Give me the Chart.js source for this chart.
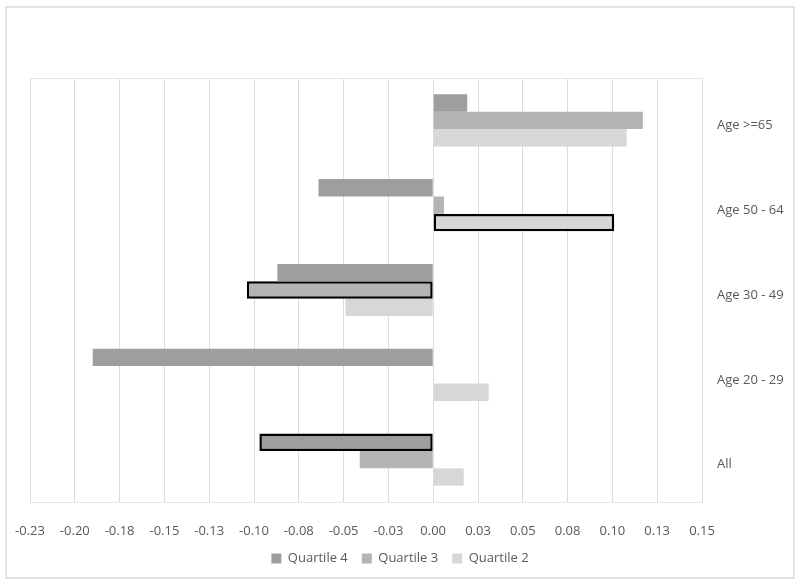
<!DOCTYPE html>
<html>
<head>
<meta charset="utf-8">
<script src="https://cdn.jsdelivr.net/npm/chart.js@4.4.1/dist/chart.umd.min.js"></script>
<style>
body{margin:0;background:#fff;}
#frame{position:absolute;left:5px;top:6px;width:786px;height:569px;border:2px solid #e3e3e3;}
#wrap{position:absolute;left:0;top:0;width:800px;height:585px;}
</style>
</head>
<body>
<div id="frame"></div>
<div id="wrap"><canvas id="ageChart"></canvas></div>
<script>

const categories = ["Age >=65", "Age 50 - 64", "Age 30 - 49", "Age 20 - 29", "All"];

const quartile4 = [0.019, -0.064, -0.087, -0.190, -0.097];
const quartile3 = [0.117, 0.006, -0.104, 0, -0.041];
const quartile2 = [0.108, 0.101, -0.049, 0.031, 0.017];

// bars drawn with a black outline in the original
const quartile4Outlined = [false, false, false, false, true];
const quartile3Outlined = [false, false, true, false, false];
const quartile2Outlined = [false, true, false, false, false];

const tickLabels = ["-0.23","-0.20","-0.18","-0.15","-0.13","-0.10","-0.08","-0.05","-0.03",
"0.00","0.03","0.05","0.08","0.10","0.13","0.15"];

const textColor = "#595959";
const fontFamily = "'Open Sans', 'Liberation Sans', sans-serif";

function outline(flags){
return {
borderColor: flags.map(f => f ? "#000000" : "rgba(0,0,0,0)"),
borderWidth: flags.map(f => f ? 2.5 : 0)
};
}

// thin line on top of the plot area + legend centred on the whole canvas
const frameBits = {
id:"frameBits",
afterLayout(chart){
const lg = chart.legend;
if(lg){
const shift = chart.width / 2 - (lg.left + lg.right) / 2;
lg.left += shift;
lg.right += shift;
}
},
afterDraw(chart){
const a = chart.chartArea;
const c = chart.ctx;
c.save();
c.strokeStyle = "#e2e7ee";
c.lineWidth = 1;
c.beginPath();
c.moveTo(a.left, a.top + 0.5);
c.lineTo(a.right, a.top + 0.5);
c.stroke();
c.restore();
}
};

new Chart(document.getElementById("ageChart"), {
type:"bar",
data:{
labels:categories,
datasets:[
Object.assign({label:"Quartile 4", data:quartile4, backgroundColor:"#9e9e9e"}, outline(quartile4Outlined)),
Object.assign({label:"Quartile 3", data:quartile3, backgroundColor:"#b4b4b4"}, outline(quartile3Outlined)),
Object.assign({label:"Quartile 2", data:quartile2, backgroundColor:"#d7d7d7"}, outline(quartile2Outlined))
]
},
options:{
indexAxis:"y",
responsive:true,
maintainAspectRatio:false,
animation:false,
datasets:{
bar:{
barPercentage:1,
categoryPercentage:0.615,
borderSkipped:false
}
},
layout:{
padding:{top:78, left:30, right:8, bottom:10}
},
scales:{
x:{
min:-0.225,
max:0.15,
grid:{color:"#dcdcdc", lineWidth:1, drawTicks:false},
border:{color:"#e2e7ee"},
ticks:{
stepSize:0.025,
padding:21,
color:textColor,
font:{family:fontFamily, size:13},
callback:(v, i) => tickLabels[i]
},
afterFit(axis){
axis.height = 36;
axis.paddingLeft = 0;
axis.paddingRight = 0;
}
},
y:{
position:"right",
grid:{display:false},
border:{display:false},
ticks:{
padding:7,
labelOffset:5,
color:textColor,
font:{family:fontFamily, size:13}
},
afterFit(axis){ axis.width = 90; }
}
},
plugins:{
legend:{
position:"bottom",
labels:{
boxWidth:10,
boxHeight:10,
padding:14,
color:textColor,
font:{family:fontFamily, size:13}
}
},
tooltip:{enabled:false}
}
},
plugins:[frameBits]
});

</script>
</body>
</html>
